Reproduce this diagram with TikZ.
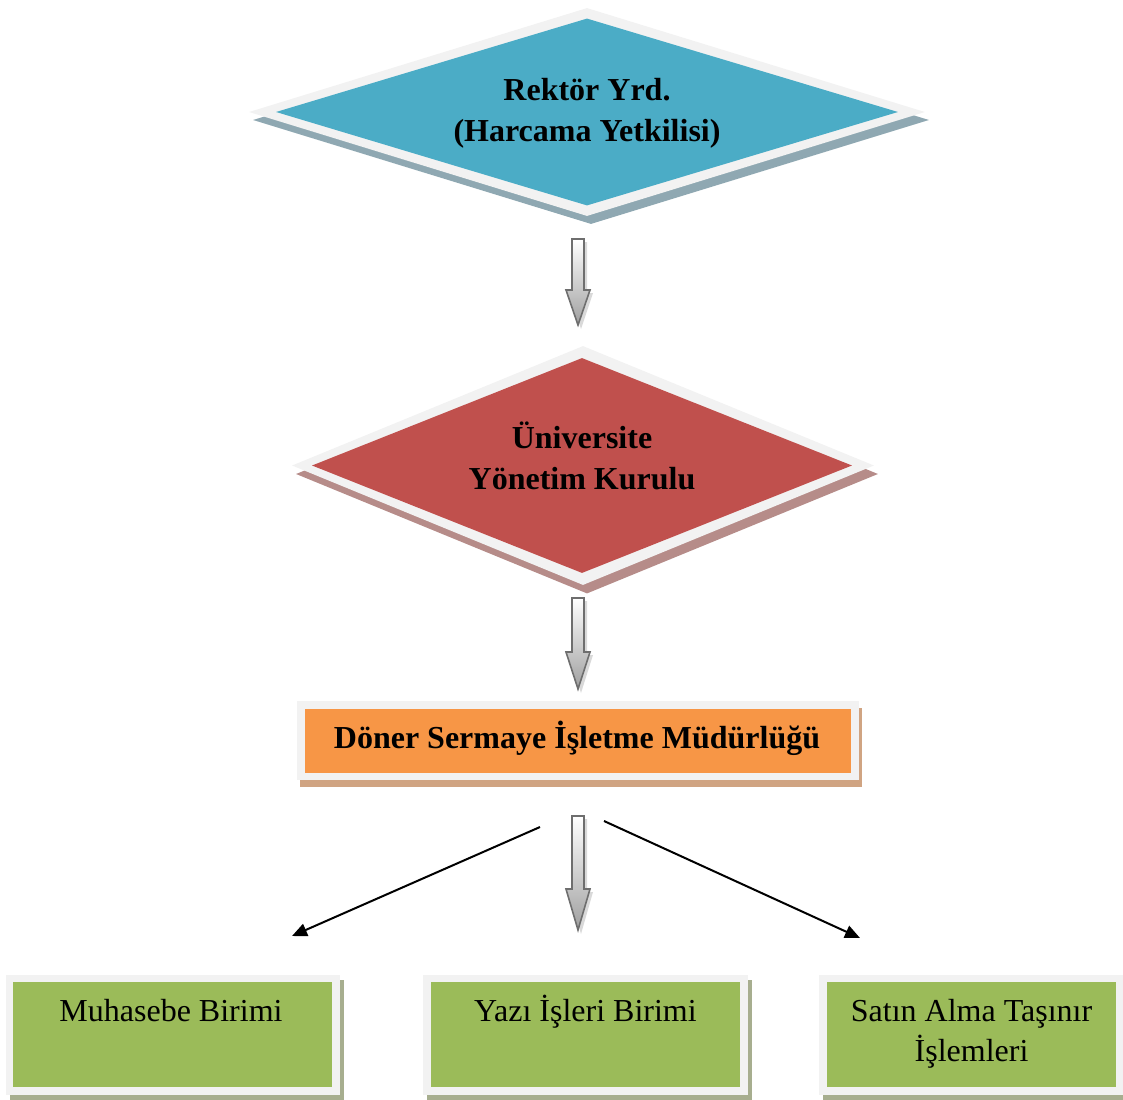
\documentclass[tikz,border=0pt]{standalone}
\usepackage{fontspec}
\setmainfont{Liberation Serif}
\usetikzlibrary{shapes.geometric,arrows.meta}
\definecolor{cblue}{HTML}{4BACC6}
\definecolor{cred}{HTML}{C0504D}
\definecolor{corange}{HTML}{F79646}
\definecolor{cgreen}{HTML}{9BBB59}
\definecolor{cborder}{HTML}{F2F2F2}
\definecolor{shblue}{HTML}{8FA8B2}
\definecolor{shred}{HTML}{B68C89}
\definecolor{shorange}{HTML}{D0A482}
\definecolor{shgreen}{HTML}{A7AE8F}
\definecolor{arrline}{HTML}{6E6E6E}
\begin{document}
\begin{tikzpicture}[x=1pt,y=-1pt,
  txt/.style={font=\fontsize{32}{40}\selectfont, align=center, inner sep=0},
  btxt/.style={font=\fontsize{32}{41}\selectfont\bfseries, align=center, inner sep=0},
  dia/.style={shape=diamond, inner sep=0, draw=none},
  box/.style={shape=rectangle, inner sep=0, draw=none},
  hollow/.style={draw=arrline, line width=1.6pt, top color=white, bottom color=gray!75, line join=miter},
  hshadow/.style={fill=gray!30},
  link/.style={line width=2pt, -{Triangle[length=15pt,width=13pt]}}
]
\useasboundingbox (0,0) rectangle (1123,1099);

% ---- Diamond 1 ----
\node[dia, minimum width=676pt, minimum height=208pt, fill=shblue] (d1s) at (591,120) {};
\node[dia, minimum width=676pt, minimum height=208pt, fill=cborder] (d1o) at (587,112) {};
\node[dia, minimum width=622pt, minimum height=187pt, fill=cblue] (d1) at (587,112) {};
\node[btxt] (t1) at (587,113.5) {Rektör Yrd.\\(Harcama Yetkilisi)};

% ---- Diamond 2 ----
\node[dia, minimum width=582pt, minimum height=239pt, fill=shred] (d2s) at (587,474) {};
\node[dia, minimum width=582pt, minimum height=239pt, fill=cborder] (d2o) at (583,465.5) {};
\node[dia, minimum width=540pt, minimum height=215pt, fill=cred] (d2) at (582,465.5) {};
\node[btxt] (t2) at (582,455.5) {Üniversite\\Yönetim Kurulu};

% ---- Orange box ----
\node[box, minimum width=562pt, minimum height=79pt, fill=shorange] (os) at (581,747.5) {};
\node[box, minimum width=562pt, minimum height=79pt, fill=cborder] (oo) at (578,740.5) {};
\node[box, minimum width=546pt, minimum height=64pt, fill=corange] (o) at (578,741) {};
\node[btxt] (t3) at (577,738) {Döner Sermaye İşletme Müdürlüğü};

% ---- Green boxes ----
\node[box, minimum width=334pt, minimum height=120pt, fill=shgreen] (g1s) at (177,1040) {};
\node[box, minimum width=334pt, minimum height=120pt, fill=cborder] (g1o) at (173,1035) {};
\node[box, minimum width=319pt, minimum height=105pt, fill=cgreen] (g1) at (172.5,1034.5) {};
\node[txt, anchor=base] (m1) at (171,1021) {Muhasebe Birimi};

\node[box, minimum width=325pt, minimum height=120pt, fill=shgreen] (g2s) at (589.5,1040) {};
\node[box, minimum width=325pt, minimum height=120pt, fill=cborder] (g2o) at (585.5,1035) {};
\node[box, minimum width=309pt, minimum height=105pt, fill=cgreen] (g2) at (585.5,1034.5) {};
\node[txt, anchor=base] (m2) at (585.5,1021) {Yazı İşleri Birimi};

\node[box, minimum width=305pt, minimum height=120pt, fill=shgreen] (g3s) at (975.5,1040) {};
\node[box, minimum width=305pt, minimum height=120pt, fill=cborder] (g3o) at (971.5,1035) {};
\node[box, minimum width=289pt, minimum height=105pt, fill=cgreen] (g3) at (971.5,1034.5) {};
\node[txt, anchor=base] (m3) at (971.5,1061) {Satın Alma Taşınır\\İşlemleri};

% ---- Hollow block arrows ----
\foreach \top/\hs/\tip in {239/290/325, 598/652/689, 816/889/930}{
  \fill[hshadow] (575,\top+3) -- (587,\top+3) -- (587,\hs+3) -- (593,\hs+3) -- (581,\tip+4) -- (569,\hs+3) -- (575,\hs+3) -- cycle;
  \path[hollow] (572,\top) -- (584,\top) -- (584,\hs) -- (590,\hs) -- (578,\tip) -- (566,\hs) -- (572,\hs) -- cycle;
}

% ---- Black connectors ----
\coordinate (ls) at (540,827);
\coordinate (le) at (292,936);
\coordinate (rs) at (604,821);
\coordinate (re) at (860,938);
\draw[link] (ls) -- (le);
\draw[link] (rs) -- (re);
\end{tikzpicture}
\end{document}
